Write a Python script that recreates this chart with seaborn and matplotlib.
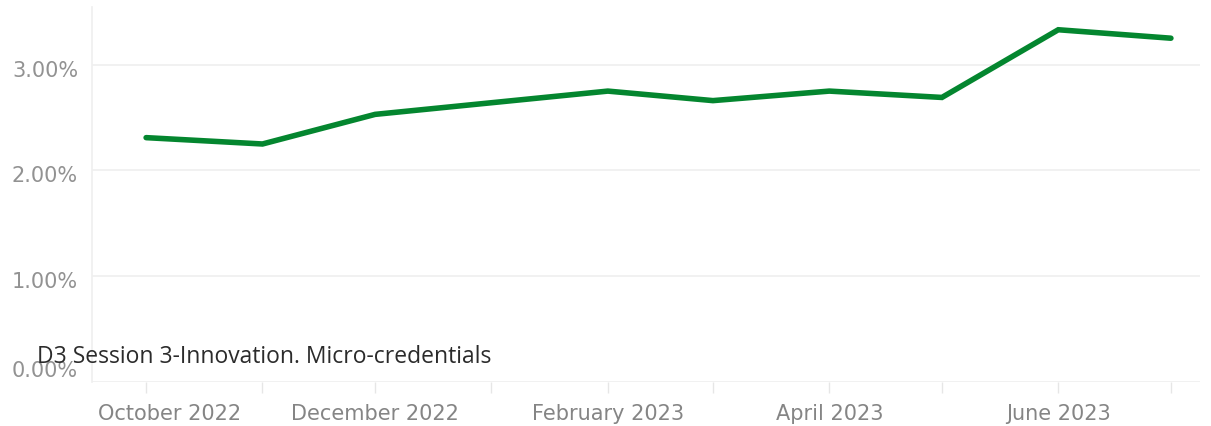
import pandas as pd
import matplotlib.pyplot as plt
import matplotlib.transforms as mtransforms
from matplotlib.ticker import PercentFormatter
import seaborn as sns


# Data (monthly share, in percent)
months = ['2022-10-01', '2022-11-01', '2022-12-01', '2023-01-01', '2023-02-01',
          '2023-03-01', '2023-04-01', '2023-05-01', '2023-06-01', '2023-07-01']
share = [2.31, 2.25, 2.53, 2.64, 2.75, 2.66, 2.75, 2.69, 3.33, 3.25]
tick_labels = ['October 2022', '', 'December 2022', '', 'February 2023',
               '', 'April 2023', '', 'June 2023', '']
y_ticks = [0, 1, 2, 3]
title = 'D3 Session 3-Innovation. Micro-credentials'

df = pd.DataFrame({'Month': pd.to_datetime(months), 'Share': share})

sns.set_style('white')
plt.rcParams['font.family'] = ['DejaVu Sans']

fig = plt.figure(figsize=(12.11, 4.27), dpi=100)
ax = fig.add_axes([92 / 1211, 44 / 427, 1108 / 1211, 375 / 427])

sns.lineplot(data=df, x='Month', y='Share', color='#04862F', linewidth=4,
             solid_capstyle='round', solid_joinstyle='miter', ax=ax)

ax.set_xlim(pd.Timestamp('2022-09-16 14:00'), pd.Timestamp('2023-07-08 18:00'))
ax.set_ylim(0, 3.545)

ax.set_xticks(df['Month'])
ax.set_xticklabels(tick_labels)
ax.set_yticks(y_ticks)
ax.yaxis.set_major_formatter(PercentFormatter(xmax=100, decimals=2))

ax.set_xlabel('')
ax.set_ylabel('')

# light grid and axes
ax.grid(axis='y', color='#efefef', linewidth=1.2)
ax.grid(axis='x', visible=False)
for side in ['top', 'right', 'bottom']:
    ax.spines[side].set_visible(False)
ax.spines['left'].set_color('#efefef')
ax.spines['left'].set_linewidth(1.2)

ax.tick_params(axis='x', length=8, width=1, color='#e6e6e6', pad=7,
               labelsize=15, labelcolor='#858585', bottom=True)
ax.tick_params(axis='y', length=0, pad=10, labelsize=15, labelcolor='#929292')

# nudge labels the way the reference places them
xl = ax.get_xticklabels()
xl[0].set_transform(xl[0].get_transform() +
                    mtransforms.ScaledTranslation(23 / 100, 0, fig.dpi_scale_trans))
for i, lab in enumerate(ax.get_yticklabels()):
    dy = 14 if i == 0 else -3
    lab.set_transform(lab.get_transform() +
                      mtransforms.ScaledTranslation(0, dy / 100, fig.dpi_scale_trans))

fig.text(37 / 1211, 1 - 363 / 427, title, fontsize=16.5, color='#2b2b2b',
         family=['Open Sans', 'DejaVu Sans'], ha='left', va='baseline')

fig.savefig('out.png', dpi=100, facecolor='white')
